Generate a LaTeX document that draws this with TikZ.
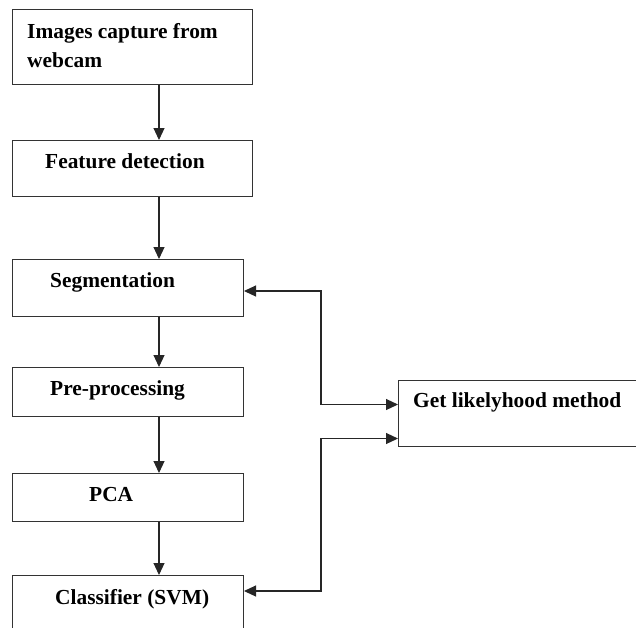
\documentclass[tikz,border=0pt]{standalone}
\usepackage{fontspec}
\setmainfont{Liberation Serif}
\usetikzlibrary{arrows.meta}

\begin{document}
\begin{tikzpicture}[x=1pt,y=-1pt,
    box/.style={draw=black!80,line width=1pt,anchor=north west,inner sep=0pt},
    lbl/.style={font=\fontsize{21.4}{29}\selectfont\bfseries,anchor=base west,inner sep=0pt,align=left},
    arr/.style={draw=black!85,line width=1.1pt,-{Triangle[length=12pt,width=11pt]}},
    link/.style={arr,{Triangle[length=12pt,width=11pt]}-{Triangle[length=12pt,width=11pt]}}]
  \useasboundingbox (0,0) rectangle (636,627);
  % boxes
  \node[box,minimum width=240pt,minimum height=75pt] (cap) at (12,9) {};
  \node[box,minimum width=240pt,minimum height=56pt] (feat) at (12,140) {};
  \node[box,minimum width=231pt,minimum height=57pt] (seg) at (12,259) {};
  \node[box,minimum width=231pt,minimum height=49pt] (pre) at (12,367) {};
  \node[box,minimum width=231pt,minimum height=48pt] (pca) at (12,473) {};
  \node[box,minimum width=231pt,minimum height=70pt] (cls) at (12,575) {};
  \node[box,minimum width=250pt,minimum height=66pt] (like) at (398,380) {};
  % texts
  \node[lbl] (capt) at (27,67) {Images capture from\\webcam};
  \node[lbl] (featt) at (45,168) {Feature detection};
  \node[lbl] (segt) at (50,287) {Segmentation};
  \node[lbl] (pret) at (50,395) {Pre-processing};
  \node[lbl] (pcat) at (89,501) {PCA};
  \node[lbl] (clst) at (55,604) {Classifier (SVM)};
  \node[lbl] (liket) at (413,407) {Get likelyhood method};
  % arrows down the chain
  \coordinate (ax) at (159,0);
  \draw[arr] (cap.south -| ax) -- (feat.north -| ax);
  \draw[arr] (feat.south -| ax) -- (seg.north -| ax);
  \draw[arr] (seg.south -| ax) -- (pre.north -| ax);
  \draw[arr] (pre.south -| ax) -- (pca.north -| ax);
  \draw[arr] (pca.south -| ax) -- (cls.north -| ax);
  % links to the likelihood box
  \coordinate (bx) at (321,0);
  \coordinate (l1) at ([yshift=9pt]like.west);
  \coordinate (l2) at ([yshift=-25pt]like.west);
  \coordinate (c1) at ([yshift=-16pt]cls.north east);
  \draw[link] ([yshift=-3pt]seg.east) -| (bx |- l1) -- (l1);
  \draw[link] (l2) -| (bx |- c1) -- (c1);
\end{tikzpicture}
\end{document}
